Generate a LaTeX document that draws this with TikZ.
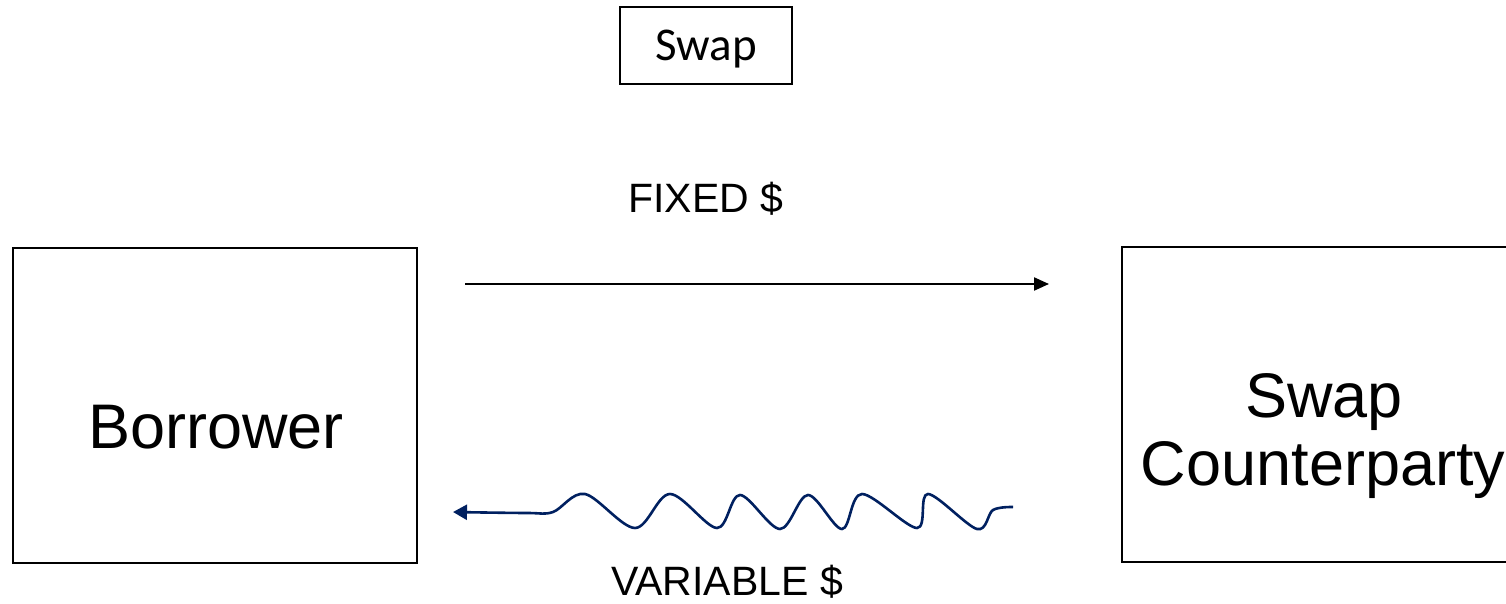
\documentclass[tikz,border=0pt]{standalone}
\usepackage{fontspec}
\setmainfont{Liberation Sans}
\newfontfamily\calibri{Carlito}
\usetikzlibrary{arrows.meta}
\definecolor{navy}{HTML}{002060}
\begin{document}
\begin{tikzpicture}[x=1pt,y=-1pt,
  box/.style={draw, line width=1.3pt, inner sep=0pt},
  bigtext/.style={font=\fontsize{63}{68}\selectfont, inner sep=0pt, anchor=base},
  lbltext/.style={font=\fontsize{41}{48}\selectfont, inner sep=0pt, anchor=base},
  flow/.style={line width=2.2pt, -{Triangle[length=15pt,width=13pt]}},
  wave/.style={line width=2.6pt, navy, -{Triangle[length=14pt,width=15pt]}}]
\clip (0,0) rectangle (1506,604);
% boxes
\node[box, minimum width=172pt, minimum height=77pt] (swapbox) at (706,45.5) {};
\node[anchor=base, inner sep=0pt, font=\calibri\fontsize{47}{52}\selectfont] (swaptitle) at (706,61) {Swap};
\node[box, minimum width=404pt, minimum height=315pt] (borrower) at (215,405.5) {};
\node[bigtext] (borrowertext) at (216,448) {Borrower};
\node[box, minimum width=405pt, minimum height=315pt] (counter) at (1324.5,404.5) {};
\node[bigtext] (countertext1) at (1324,417) {Swap};
\node[bigtext] (countertext2) at (1323,485) {Counterparty};
% labels
\node[lbltext] (fixedlbl) at (706,212) {FIXED \$};
\node[lbltext] (varlbl) at (727,595) {VARIABLE \$};
% fixed arrow
\coordinate (fstart) at (465,284);
\coordinate (fend) at (1049,284);
\draw[flow] (fstart) -- (fend);
% wavy arrow
\coordinate (wstart) at (1013,507);
\coordinate (wend) at (453,512);
\draw[wave] plot[smooth, tension=0.55] coordinates {
  (wstart) (993,510) (977,529) (928,494) (917,528) (862,494) (842,529)
  (808,495) (780,529) (740,495) (717,528) (670,494) (635,528) (585,494)
  (553,512) (527,513) (wend)};
\end{tikzpicture}
\end{document}
